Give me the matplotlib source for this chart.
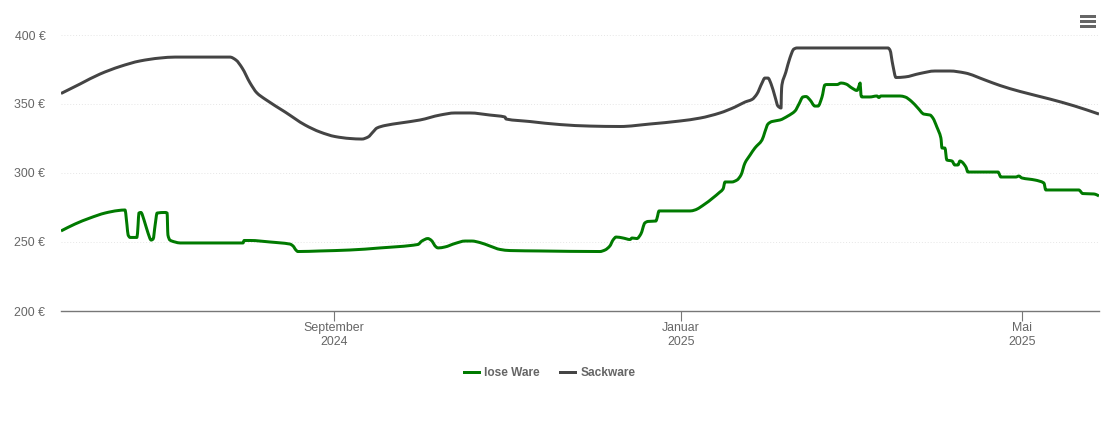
import matplotlib
matplotlib.use("Agg")
import matplotlib.pyplot as plt
import numpy as np
from matplotlib.lines import Line2D
from matplotlib.patches import PathPatch, Rectangle
from matplotlib.path import Path

plt.rcParams['font.family'] = ['Liberation Sans', 'DejaVu Sans']

# days counted from 1 September 2024
lose_days = [-96.0, -91.1, -85.8, -80.5, -75.9, -73.5, -72.8, -72.4, -71.7, -69.3, -68.9, -68.6, -67.9, -66.8,
             -65.4, -64.3, -63.6, -62.9, -62.2, -59.4, -58.7, -58.4, -57.7, -55.9, -54.1, -32.0, -31.6, -29.5,
             -22.5, -15.5, -14.4, -13.4, -12.7, -4.9, 5.6, 16.2, 29.5, 30.9, 33.0, 34.1, 35.9, 36.6, 39.0, 42.5,
             46.1, 48.5, 51.3, 54.8, 58.4, 61.9, 72.4, 93.5, 95.3, 97.0, 98.1, 99.2, 101.6, 104.1, 104.8, 106.5,
             107.9, 109.3, 110.4, 113.2, 113.6, 114.3, 125.2, 126.9, 130.4, 135.7, 136.8, 137.5, 139.9, 141.7,
             143.1, 144.5, 146.3, 148.0, 150.5, 151.5, 152.6, 154.0, 156.8, 159.6, 162.1, 163.5, 164.9, 166.0,
             167.4, 169.1, 170.2, 171.6, 172.6, 173.3, 176.9, 178.3, 180.0, 182.1, 183.9, 184.6, 185.0, 185.3,
             185.6, 188.4, 190.9, 191.6, 192.3, 199.0, 200.8, 202.9, 205.3, 207.4, 209.6, 210.6, 212.0, 213.4,
             213.8, 214.8, 215.5, 217.3, 218.3, 219.4, 220.1, 220.8, 222.2, 222.9, 233.5, 234.5, 239.8, 240.8,
             241.9, 246.5, 249.6, 250.3, 261.9, 263.3, 267.2, 268.3, 269.0]
lose_preis = [258.0, 263.0, 267.4, 271.0, 272.8, 273.2, 262.3, 255.1, 253.3, 253.3, 262.3, 271.0, 271.4, 265.9,
              256.5, 251.4, 252.2, 262.3, 271.0, 271.4, 271.0, 255.1, 251.4, 250.0, 249.3, 249.3, 251.1, 251.1,
              250.0, 248.5, 247.1, 244.2, 243.1, 243.5, 244.2, 245.7, 248.2, 250.7, 252.5, 251.4, 246.4, 245.7, 246.4, 248.9,
              250.7, 250.7, 249.6, 247.1, 244.6, 243.8, 243.5, 243.1, 244.2, 247.1, 251.4, 253.6, 252.9, 251.8, 252.9, 252.5,
              255.8, 263.8, 264.9, 265.2, 267.4, 272.5, 272.5, 273.2, 277.5, 286.2, 288.4, 293.5, 293.5, 294.9,
              298.5, 307.2, 313.0, 318.1, 323.9, 329.7, 335.5, 337.3, 338.4, 341.3, 344.9, 350.0, 355.1, 355.4,
              352.9, 348.5, 348.5, 355.1, 363.8, 364.1, 364.1, 365.2, 364.5, 361.6, 359.8, 363.0, 365.2, 356.5,
              355.1, 355.1, 355.8, 354.7, 355.8, 355.8, 355.1, 352.2, 347.1, 342.7, 342.0, 339.8, 333.3, 325.4,
              318.1, 318.1, 309.4, 308.7, 305.8, 305.8, 308.7, 308.0, 304.3, 300.7, 300.7, 297.1, 297.1, 297.8,
              296.4, 294.9, 292.8, 287.7, 287.7, 285.1, 284.8, 284.1, 283.3]

sack_days = [-96.0, -89.3, -82.3, -75.2, -68.2, -61.2, -55.9, -36.6, -34.5, -32.3, -29.5, -27.1, -24.3, -17.2,
             -10.2, -4.9, 0.4, 5.6, 9.8, 12.0, 13.7, 15.1, 17.9, 23.2, 30.2, 37.3, 42.5, 47.8, 54.8, 60.1, 60.5,
             68.9, 79.5, 90.0, 100.6, 111.1, 121.7, 128.7, 135.7, 141.0, 144.5, 147.0, 148.7, 150.5, 151.5, 152.6,
             153.7, 155.1, 156.1, 157.2, 157.3, 157.5, 158.9, 160.3, 161.7, 162.8, 194.8, 195.5, 196.5, 197.6,
             200.8, 206.0, 211.3, 216.6, 221.9, 228.9, 234.2, 241.2, 251.7, 260.5, 269.0]
sack_preis = [357.6, 364.5, 371.7, 377.2, 381.2, 383.3, 384.0, 384.0, 381.9, 376.1, 365.2, 358.0, 353.6, 344.2,
              334.8, 329.7, 326.4, 325.0, 324.6, 326.1, 329.7, 332.6, 334.4, 336.2, 338.4, 342.0, 343.5, 343.5, 342.0, 340.6, 339.1,
              337.3, 335.1, 334.0, 333.7, 335.5, 337.7, 339.8, 343.5, 347.8, 351.4, 353.3, 357.2, 365.2, 368.8, 368.8,
              364.5, 355.1, 348.5, 347.1, 356.5, 363.8, 373.2, 383.3, 389.8, 390.6, 390.6, 389.1, 378.2, 369.2,
              369.6, 372.1, 373.9, 373.9, 372.5, 367.4, 363.4, 359.1, 353.6, 348.5, 342.7]

y_ticks = [200, 250, 300, 350, 400]
y_labels = ["200 €", "250 €", "300 €", "350 €", "400 €"]
x_ticks = [0, 122, 242]
x_labels = ["September\n2024", "Januar\n2025", "Mai\n2025"]

GREY_TEXT = "#666666"
GREEN = "#007a00"
DARK = "#444444"


def smooth_path(xs, ys):
    """Bezier path through the points, tangents flat at local peaks so it does not overshoot."""
    x = np.array(xs)
    y = np.array(ys)
    h = np.diff(x)
    s = np.diff(y) / h
    m = np.zeros(len(x))
    for i in range(1, len(x) - 1):
        if s[i - 1] * s[i] > 0:
            m[i] = 2 * s[i - 1] * s[i] / (s[i - 1] + s[i])
    m[0] = s[0]
    m[-1] = s[-1]
    verts = [(x[0], y[0])]
    codes = [Path.MOVETO]
    for i in range(len(h)):
        verts.append((x[i] + h[i] / 3, y[i] + m[i] * h[i] / 3))
        verts.append((x[i + 1] - h[i] / 3, y[i + 1] - m[i + 1] * h[i] / 3))
        verts.append((x[i + 1], y[i + 1]))
        codes.extend([Path.CURVE4] * 3)
    return Path(verts, codes)


fig = plt.figure(figsize=(11.10, 4.22), dpi=100)
ax = fig.add_axes([61 / 1110, 111 / 422, 1038 / 1110, 276 / 422])

ax.add_patch(PathPatch(smooth_path(lose_days, lose_preis), fill=False, edgecolor=GREEN, lw=2.15,
                       joinstyle="round", capstyle="butt"))
ax.add_patch(PathPatch(smooth_path(sack_days, sack_preis), fill=False, edgecolor=DARK, lw=2.15,
                       joinstyle="round", capstyle="butt"))

ax.set_xlim(-96, 269)
ax.set_ylim(200, 400)

for s in ["top", "right", "left"]:
    ax.spines[s].set_visible(False)
ax.spines["bottom"].set_color("#777777")
ax.spines["bottom"].set_linewidth(1.0)

ax.set_yticks(y_ticks)
ax.set_yticklabels(y_labels)
ax.set_xticks(x_ticks)
ax.set_xticklabels(x_labels, linespacing=1.25)
ax.tick_params(axis="y", length=0, pad=11.2, labelsize=8.9, labelcolor=GREY_TEXT)
ax.tick_params(axis="x", length=7.2, width=0.8, color="#777777", pad=0.4, labelsize=8.9, labelcolor=GREY_TEXT)
ax.grid(axis="y", color="#e6e6e6", lw=0.7, ls=(0, (1, 2)))
ax.set_axisbelow(True)

handles = [Line2D([], [], color=GREEN, lw=2.15), Line2D([], [], color=DARK, lw=2.15)]
leg = fig.legend(handles, ["lose Ware", "Sackware"], loc="center", bbox_to_anchor=(549.5 / 1110, 1 - 373 / 422), ncol=2,
                 frameon=False, handlelength=1.25, columnspacing=1.75, handletextpad=0.42,
                 prop={"weight": "bold", "size": 8.6})
for t in leg.get_texts():
    t.set_color("#666666")

# menu icon top right
for top in [15, 20, 25]:
    fig.add_artist(Rectangle((1080 / 1110, 1 - (top + 3) / 422), 16 / 1110, 3 / 422,
                             transform=fig.transFigure, color="#666666", lw=0))

fig.savefig("out.png", dpi=100)
